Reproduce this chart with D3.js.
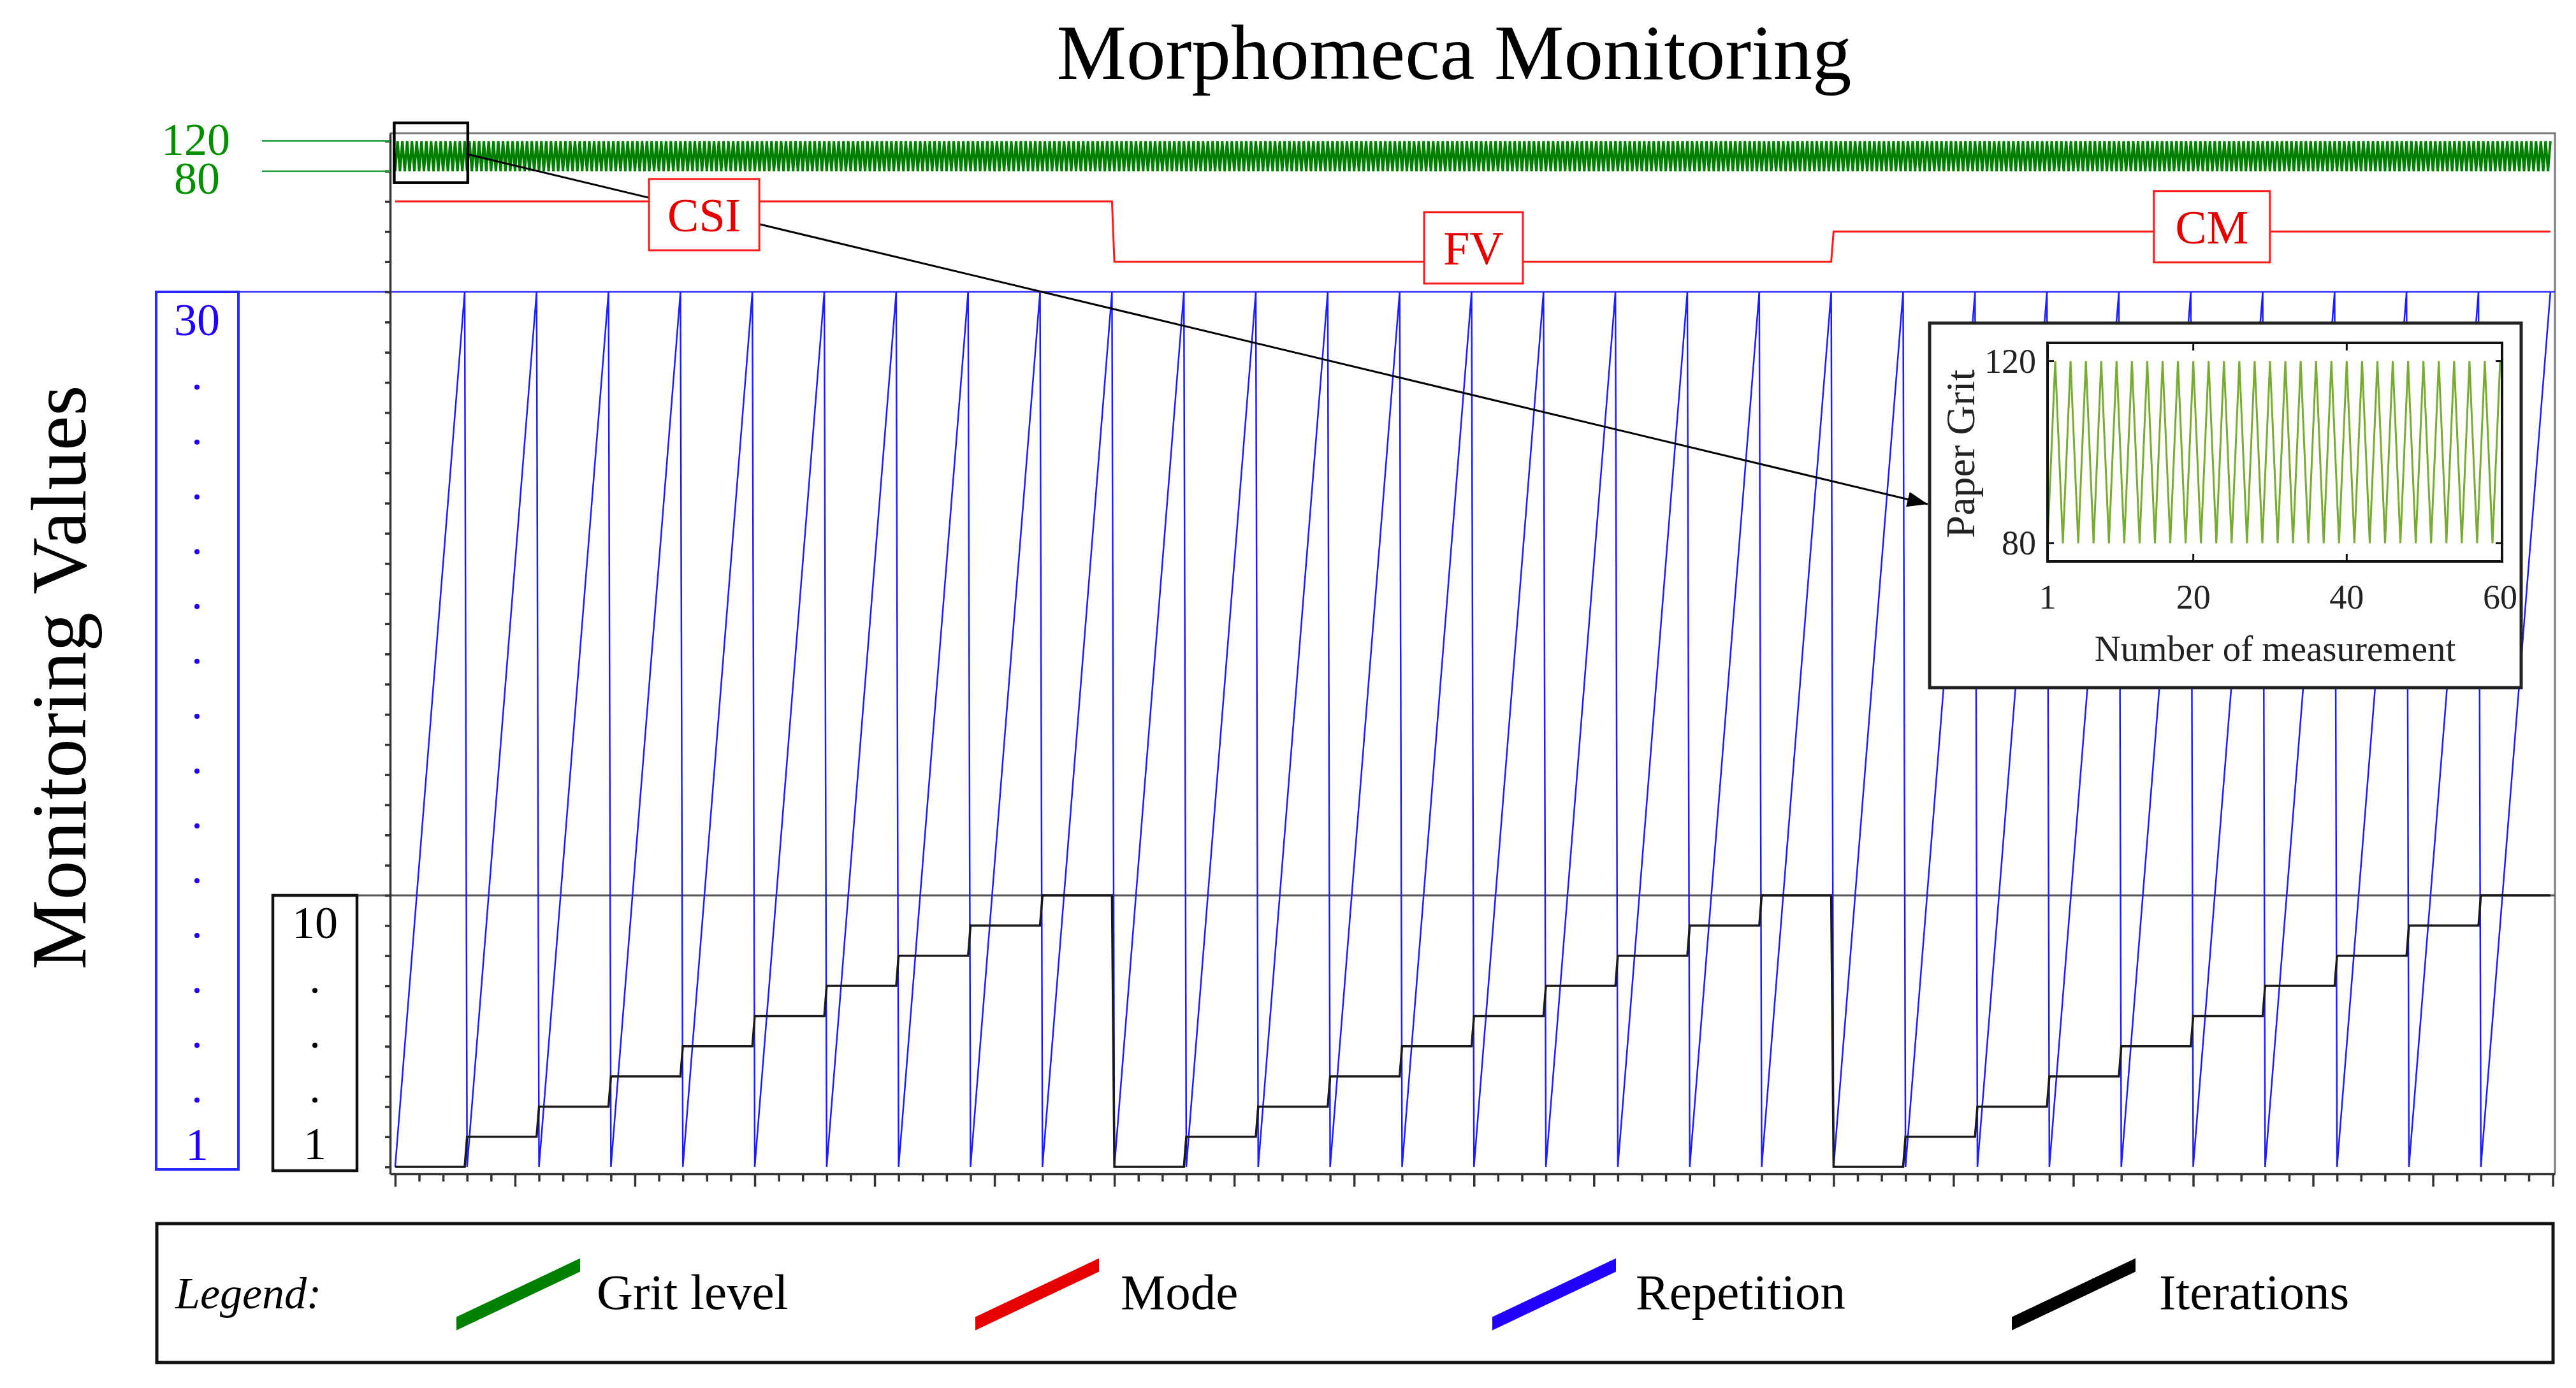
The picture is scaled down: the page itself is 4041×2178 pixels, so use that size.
<!DOCTYPE html>
<html><head><meta charset="utf-8">
<script src="https://cdn.jsdelivr.net/npm/d3@7"></script>
<style>
html,body{margin:0;padding:0;background:#fff;}
svg{display:block;}
text{font-family:"Liberation Serif","Times New Roman",serif;}
</style></head><body>
<svg id="chart" width="4041" height="2178"></svg>
<script>
// ---------------- data ----------------
const modes = ["CSI", "FV", "CM"];
const modeLevels = [33, 31, 32];              // position of each mode on the shared level axis
const iterations = [1, 2, 3, 4, 5, 6, 7, 8, 9, 10];
const repetitions = [1, 2, 3, 4, 5, 6, 7, 8, 9, 10, 11, 12, 13, 14, 15,
                     16, 17, 18, 19, 20, 21, 22, 23, 24, 25, 26, 27, 28, 29, 30];
const gritCycle = [80, 120];                  // grit alternates every measurement
const gritTickLabels = [120, 80];
const repTickLabels = ["30", "1"];
const iterTickLabels = ["10", "1"];
const insetMeasurements = 60;
const insetXTicks = [1, 20, 40, 60];
const insetYTicks = [120, 80];
const legendLabels = ["Grit level", "Mode", "Repetition", "Iterations"];
const legendColors = ["#008000", "#e60000", "#2200ff", "#000000"];

// table built from the arrays above
const rows = [];
let count = 0;
modes.forEach((mode, mi) => {
  iterations.forEach(it => {
    repetitions.forEach(rep => {
      count += 1;
      rows.push({ m: count, mode, modeLevel: modeLevels[mi], iteration: it,
                  repetition: rep, grit: gritCycle[(count - 1) % gritCycle.length] });
    });
  });
});
const insetRows = rows.slice(0, insetMeasurements);

// ---------------- scales ----------------
const svg = d3.select("#chart");
const x = d3.scaleLinear().domain([-1.1, 901.9]).range([612, 4008]);
const y = d3.scaleLinear().domain([0.77, 35.26]).range([1842, 209]);
const gritToLevel = d3.scaleLinear().domain([80, 120]).range([34, 35]);

// ---------------- title ----------------
svg.append("text").attr("x", 2281).attr("y", 124).attr("text-anchor", "middle")
  .attr("font-size", 123).attr("fill", "#000").text("Morphomeca Monitoring");

svg.append("text").attr("transform", "translate(134,1063) rotate(-90)")
  .attr("text-anchor", "middle").attr("font-size", 123).attr("fill", "#000")
  .text("Monitoring Values");

// ---------------- frame ----------------
svg.append("path")
  .attr("d", `M${x.range()[0]},${y.range()[1]} H${x.range()[1]} V${y.range()[0]}`)
  .attr("fill", "none").attr("stroke", "#7a7a7a").attr("stroke-width", 3);

// guide lines across the plot
svg.append("line").attr("x1", 244).attr("x2", x.range()[1]).attr("y1", y(30)).attr("y2", y(30))
  .attr("stroke", "#3333ff").attr("stroke-width", 2.5);
svg.append("line").attr("x1", 428).attr("x2", x.range()[1]).attr("y1", y(10)).attr("y2", y(10))
  .attr("stroke", "#555").attr("stroke-width", 3);

// ---------------- series ----------------
const g = svg.append("g");
g.append("path").datum(rows)
  .attr("d", d3.line().x(d => x(d.m)).y(d => y(gritToLevel(d.grit))))
  .attr("fill", "none").attr("stroke", "#008000").attr("stroke-width", 3.9);

g.append("path").datum(rows)
  .attr("d", d3.line().x(d => x(d.m)).y(d => y(d.modeLevel)))
  .attr("fill", "none").attr("stroke", "#ff1a1a").attr("stroke-width", 3);

g.append("path").datum(rows)
  .attr("d", d3.line().x(d => x(d.m)).y(d => y(d.repetition)))
  .attr("fill", "none").attr("stroke", "#1c1cff").attr("stroke-width", 2.5);

g.append("path").datum(rows)
  .attr("d", d3.line().x(d => x(d.m)).y(d => y(d.iteration)))
  .attr("fill", "none").attr("stroke", "#1a1a1a").attr("stroke-width", 3.5);

// ---------------- zoom rectangle + arrow ----------------
svg.append("defs").append("marker").attr("id", "arrow")
  .attr("markerUnits", "userSpaceOnUse").attr("markerWidth", 40).attr("markerHeight", 30)
  .attr("refX", 32).attr("refY", 12).attr("orient", "auto")
  .append("path").attr("d", "M0,0 L32,12 L0,24 Z").attr("fill", "#000");

svg.append("line").attr("x1", x(31.3)).attr("y1", y(34.56)).attr("x2", 3024).attr("y2", 791)
  .attr("stroke", "#000").attr("stroke-width", 3).attr("marker-end", "url(#arrow)");

svg.append("rect").attr("x", x(0.6)).attr("y", y(35.6))
  .attr("width", x(31.3) - x(0.6)).attr("height", y(33.62) - y(35.6))
  .attr("fill", "none").attr("stroke", "#000").attr("stroke-width", 4.5);

// ---------------- mode labels ----------------
const modeBoxes = [
  { m: 129.9, v: 32.56, w: 173 },
  { m: 450.8, v: 31.46, w: 155 },
  { m: 758.8, v: 32.16, w: 182 }
];
modeBoxes.forEach((b, i) => {
  const cx = x(b.m), cy = y(b.v);
  svg.append("rect").attr("x", cx - b.w / 2).attr("y", cy - 56).attr("width", b.w).attr("height", 112)
    .attr("fill", "#fff").attr("stroke", "#ff1a1a").attr("stroke-width", 3);
  svg.append("text").attr("x", cx).attr("y", cy + 26).attr("text-anchor", "middle")
    .attr("font-size", 74).attr("fill", "#e60000").text(modes[i]);
});

// ---------------- axes ----------------
const yAxis = svg.append("g").attr("transform", `translate(${x.range()[0]},0)`)
  .call(d3.axisLeft(y).tickValues(d3.range(1, 36)).tickSize(8).tickSizeOuter(0).tickFormat(""));
yAxis.selectAll("path,line").attr("stroke", "#333").attr("stroke-width", 3.5);

const xAxis = svg.append("g").attr("transform", `translate(0,${y.range()[0]})`)
  .call(d3.axisBottom(x).tickValues(d3.range(1, 902, 10)).tickSize(12).tickSizeOuter(0).tickFormat(""));
xAxis.selectAll("path,line").attr("stroke", "#333").attr("stroke-width", 3.5);
xAxis.selectAll(".tick line").filter(d => (d - 1) % 50 === 0).attr("y2", 20);

// ---------------- grit labels ----------------
svg.selectAll(".gritGuide").data(gritTickLabels).enter().append("line")
  .attr("x1", 411).attr("x2", x.range()[0]).attr("y1", d => y(gritToLevel(d))).attr("y2", d => y(gritToLevel(d)))
  .attr("stroke", "#1f9f3f").attr("stroke-width", 2.5);
svg.append("text").attr("x", 307).attr("y", 243).attr("text-anchor", "middle")
  .attr("font-size", 72).attr("fill", "#009000").text(gritTickLabels[0]);
svg.append("text").attr("x", 309).attr("y", 304).attr("text-anchor", "middle")
  .attr("font-size", 72).attr("fill", "#009000").text(gritTickLabels[1]);

// ---------------- repetition box ----------------
svg.append("rect").attr("x", 245).attr("y", y(30)).attr("width", 129).attr("height", 1835 - y(30))
  .attr("fill", "none").attr("stroke", "#2a2aff").attr("stroke-width", 4);
svg.append("text").attr("x", 309).attr("y", 526).attr("text-anchor", "middle")
  .attr("font-size", 72).attr("fill", "#2200ff").text(repTickLabels[0]);
svg.append("text").attr("x", 309).attr("y", 1820).attr("text-anchor", "middle")
  .attr("font-size", 72).attr("fill", "#2200ff").text(repTickLabels[1]);
svg.selectAll(".repDot").data(d3.range(14)).enter().append("circle")
  .attr("cx", 309).attr("cy", k => 607.6 + k * 86.05).attr("r", 4).attr("fill", "#2200ff");

// ---------------- iteration box ----------------
svg.append("rect").attr("x", 428).attr("y", y(10)).attr("width", 132).attr("height", 1837 - y(10))
  .attr("fill", "none").attr("stroke", "#111").attr("stroke-width", 4.5);
svg.append("text").attr("x", 494).attr("y", 1472).attr("text-anchor", "middle")
  .attr("font-size", 72).attr("fill", "#000").text(iterTickLabels[0]);
svg.append("text").attr("x", 494).attr("y", 1819).attr("text-anchor", "middle")
  .attr("font-size", 72).attr("fill", "#000").text(iterTickLabels[1]);
svg.selectAll(".itDot").data([11, 12, 13]).enter().append("circle")
  .attr("cx", 494).attr("cy", k => 607.6 + k * 86.05).attr("r", 4).attr("fill", "#000");

// ---------------- inset ----------------
const inset = svg.append("g");
inset.append("rect").attr("x", 3027).attr("y", 507).attr("width", 928).attr("height", 572)
  .attr("fill", "#fff").attr("stroke", "#222").attr("stroke-width", 5);
const ix = d3.scaleLinear().domain([1, 60]).range([3212, 3922]);
const iy = d3.scaleLinear().domain([76, 124]).range([881, 538]);
inset.append("path").datum(insetRows)
  .attr("d", d3.line().x(d => ix(d.m)).y(d => iy(d.grit)))
  .attr("fill", "none").attr("stroke", "#77ac30").attr("stroke-width", 3);
inset.append("rect").attr("x", 3212).attr("y", 538).attr("width", 713).attr("height", 343)
  .attr("fill", "none").attr("stroke", "#111").attr("stroke-width", 4);
insetXTicks.slice(1, 3).forEach(t => {
  inset.append("line").attr("x1", ix(t)).attr("x2", ix(t)).attr("y1", 538).attr("y2", 550).attr("stroke", "#111").attr("stroke-width", 3);
  inset.append("line").attr("x1", ix(t)).attr("x2", ix(t)).attr("y1", 881).attr("y2", 869).attr("stroke", "#111").attr("stroke-width", 3);
});
insetYTicks.forEach(t => {
  inset.append("line").attr("x1", 3212).attr("x2", 3222).attr("y1", iy(t)).attr("y2", iy(t)).attr("stroke", "#111").attr("stroke-width", 3);
  inset.append("line").attr("x1", 3925).attr("x2", 3915).attr("y1", iy(t)).attr("y2", iy(t)).attr("stroke", "#111").attr("stroke-width", 3);
});
inset.selectAll(".ixl").data(insetXTicks).enter().append("text")
  .attr("x", d => ix(d)).attr("y", 955).attr("text-anchor", "middle")
  .attr("font-size", 54).attr("fill", "#222").text(d => d);
inset.selectAll(".iyl").data(insetYTicks).enter().append("text")
  .attr("x", 3194).attr("y", d => iy(d) + 18).attr("text-anchor", "end")
  .attr("font-size", 54).attr("fill", "#222").text(d => d);
inset.append("text").attr("x", 3569).attr("y", 1037).attr("text-anchor", "middle")
  .attr("font-size", 57).attr("fill", "#222").text("Number of measurement");
inset.append("text").attr("transform", "translate(3097,712) rotate(-90)").attr("text-anchor", "middle")
  .attr("font-size", 64).attr("fill", "#222").text("Paper Grit");

// ---------------- legend ----------------
svg.append("rect").attr("x", 246).attr("y", 1920).attr("width", 3759).attr("height", 218)
  .attr("fill", "#fff").attr("stroke", "#111").attr("stroke-width", 5);
svg.append("text").attr("x", 275).attr("y", 2053).attr("font-size", 70).attr("font-style", "italic")
  .attr("fill", "#000").text("Legend:");
const swatchX = [716, 1530, 2341, 3156];
const labelX = [936, 1758, 2566, 3387];
legendLabels.forEach((lab, i) => {
  const L = swatchX[i];
  svg.append("polygon")
    .attr("points", `${L},2066.5 ${L + 194},1974.5 ${L + 194},1995.5 ${L},2087.5`)
    .attr("fill", legendColors[i]);
  svg.append("text").attr("x", labelX[i]).attr("y", 2054).attr("font-size", 79)
    .attr("fill", "#000").text(lab);
});
</script>
</body></html>
